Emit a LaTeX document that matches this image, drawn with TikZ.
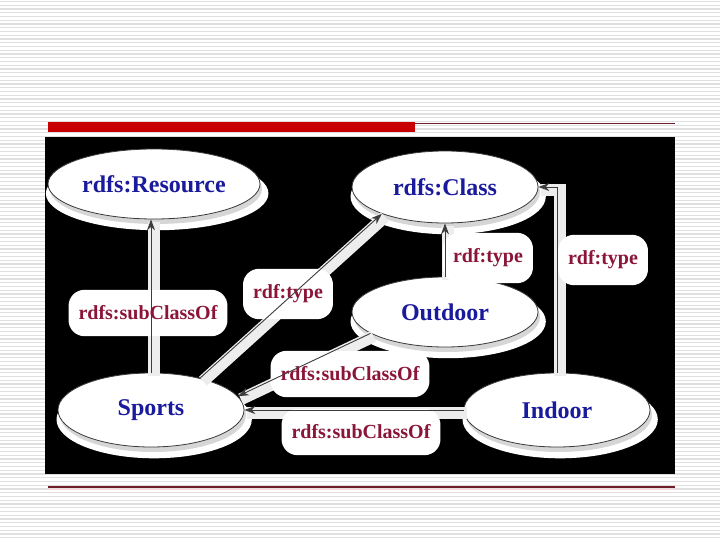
\documentclass[tikz,border=0pt]{standalone}
\usepackage{fontspec}
\setmainfont{Liberation Serif}
\usepackage{tikz}
\usetikzlibrary{arrows.meta,positioning,shapes.geometric,shadows}
\definecolor{ink}{HTML}{3C3C3C}
\definecolor{clsline}{HTML}{3A3A3A}
\definecolor{clstext}{HTML}{1A1A9C}
\definecolor{lbltext}{HTML}{8A1538}
\definecolor{barred}{HTML}{C80000}
\definecolor{barline}{HTML}{6E1C28}
\definecolor{stripe}{HTML}{E0E0E0}
\definecolor{glowgray}{HTML}{EDEDED}
\definecolor{shadowgray}{HTML}{D6D6D6}

\begin{document}
\begin{tikzpicture}[
  x=1pt, y=-1pt,
  cls/.style={ellipse, draw=clsline, fill=white, line width=0.8pt,
    minimum width=186pt, minimum height=72pt, inner sep=0pt, text=clstext,
    font=\fontsize{24}{28}\selectfont\bfseries,
    general shadow={fill=white, shadow scale=1.05, shadow xshift=3pt, shadow yshift=-9pt},
    drop shadow={fill=shadowgray, opacity=1, shadow xshift=2pt, shadow yshift=-5pt}},
  lbl/.style={rectangle, rounded corners=16pt, fill=white, inner xsep=10pt,
    inner ysep=16pt, text=lbltext, font=\fontsize{20}{24}\selectfont\bfseries},
  glow/.style={draw=glowgray, line width=12pt,
    transform canvas={xshift=3pt, yshift=-3pt}},
  arr/.style={-{Stealth[length=11pt, width=8pt]}, draw=ink, line width=0.9pt},
]
\useasboundingbox (0,0) rectangle (720,540);
\fill[white] (0,0) rectangle (720,540);
% ruled paper
\foreach \y in {1.5,5.25,...,540}
  \draw[stripe, line width=1.2pt] (0,\y) -- (720,\y);
% title rule
\fill[barred] (48,122) rectangle (415,132);
\draw[barline, line width=1pt] (415,123.5) -- (675,123.5);
\fill[black] (45,137) rectangle (675,474);
\draw[barline, line width=1.2pt] (48,487) -- (675,487);
\draw[red!15, line width=1.5pt] (48,489.5) -- (675,489.5);

% classes
\node[cls, minimum width=212pt, minimum height=70pt] (resource) at (154,184) {rdfs:Resource};
\node[cls] (class) at (445,187) {rdfs:Class};
\node[cls, minimum height=70pt] (outdoor) at (445,312) {Outdoor};
\node[cls, minimum height=74pt] (sports) at (151,410) {Sports};
\node[cls, minimum height=74pt] (indoor) at (557,410) {Indoor};

% glow under the links
\foreach \from/\to in {sports.north/sports.north |- resource.south, sports.33/class.203,
    outdoor.north/class.south, outdoor.196/sports.9, indoor.west/sports.east}
  \draw[glow] (\from) -- (\to);
\draw[glow] (indoor.north) |- (class.east);

% edge labels
\node[lbl] (subres) at (148,313) {rdfs:subClassOf};
\node[lbl] (typesp) at (288,294) {rdf:type};
\node[lbl] (typeout) at (488,258) {rdf:type};
\node[lbl] (typein) at (603,260) {rdf:type};
\node[lbl] (subout) at (350,374) {rdfs:subClassOf};
\node[lbl] (subin) at (361,432) {rdfs:subClassOf};

% links
\foreach \from/\to in {sports.north/sports.north |- resource.south, sports.33/class.203,
    outdoor.north/class.south, outdoor.196/sports.9, indoor.west/sports.east}
  \draw[arr] (\from) -- (\to);
\draw[arr] (indoor.north) |- (class.east);
\end{tikzpicture}
\end{document}
